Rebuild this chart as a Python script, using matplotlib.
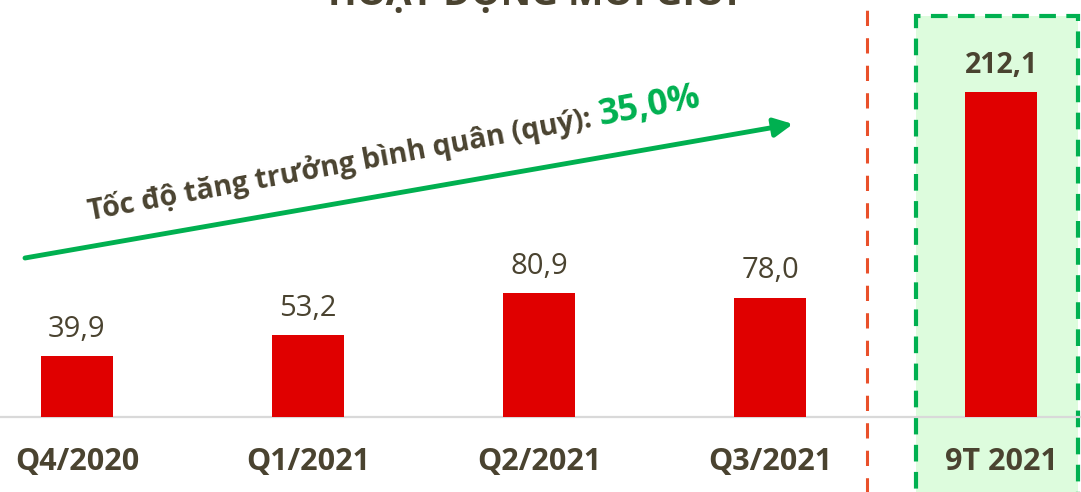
import matplotlib.pyplot as plt
from matplotlib.patches import Rectangle
from matplotlib.font_manager import FontProperties
import numpy as np

# data
categories = ['Q4/2020', 'Q1/2021', 'Q2/2021', 'Q3/2021', '9T 2021']
values = [39.9, 53.2, 80.9, 78.0, 212.1]
value_labels = ['39,9', '53,2', '80,9', '78,0', '212,1']
title = 'HOẠT ĐỘNG MÔI GIỚI'
growth_text = 'Tốc độ tăng trưởng bình quân (quý): '
growth_value = '35,0%'

RED = '#e00000'
DARK = '#4a4330'
GREEN = '#00b050'
ORANGE = '#e9502a'
FONT = 'Open Sans'

W, H = 1081, 492
fig = plt.figure(figsize=(W / 100, H / 100), dpi=100)
ax = fig.add_axes([0, 0, 1, 1])
ax.set_xlim(-0.333, 4.346)
ax.set_ylim(-48.96, 272.2)
ax.axis('off')

x = np.arange(len(categories))

# highlight box for the 9-month total
ax.add_patch(Rectangle((3.632, -60), 4.333 - 3.632, 60 + 261.7, facecolor='#ddfcdd',
                       edgecolor=GREEN, lw=3, linestyle=(0, (4, 2.5)), clip_on=False, zorder=0))
# separator
ax.plot([3.42, 3.42], [-60, 267], color=ORANGE, lw=2.2, linestyle=(0, (5, 4)), zorder=1)

ax.axhline(0, color='#d9d9d9', lw=1.6, zorder=2)
ax.bar(x, values, width=0.31, color=RED, zorder=3)

for i, (v, lab) in enumerate(zip(values, value_labels)):
    bold = i == len(values) - 1
    ax.annotate(lab, (x[i], v), xytext=(0, 13.7), textcoords='offset points',
                ha='center', va='baseline', fontsize=21 if not bold else 20.5,
                fontweight='bold' if bold else 'normal', color=DARK, family=FONT)
    ax.text(x[i], -29.5, categories[i], ha='center', va='center', fontsize=22,
            fontweight='bold', color=DARK, family=FONT)

# title, cut off at the top as in the source
fig.text(533 / W, 1 - 5 / H, title, ha='center', va='baseline', fontsize=27,
         fontweight='bold', color=DARK, family=FONT)

# growth arrow
def px(xp, yp):
    return (xp / W, 1 - yp / H)

ax.annotate('', xy=px(793, 124), xytext=px(25, 258), xycoords='figure fraction',
            textcoords='figure fraction',
            arrowprops=dict(arrowstyle='-|>', lw=3.5, color=GREEN, mutation_scale=28,
                            shrinkA=0, shrinkB=0))

angle = 10.5
x0, y0 = 90, 220
fp1 = FontProperties(family=FONT, weight='bold', size=20.6)
fig.text(*px(x0, y0), growth_text, rotation=angle, rotation_mode='anchor',
         ha='left', va='baseline', fontproperties=fp1, color=DARK)
r = fig.canvas.get_renderer()
w, _, _ = r.get_text_width_height_descent(growth_text, fp1, ismath=False)
a = np.deg2rad(angle)
x1, y1 = x0 + w * np.cos(a), y0 - w * np.sin(a)
fig.text(*px(x1, y1), growth_value, rotation=angle, rotation_mode='anchor',
         ha='left', va='baseline', family=FONT, weight='bold', size=25.5, color=GREEN)

fig.savefig('out.png', dpi=100)
